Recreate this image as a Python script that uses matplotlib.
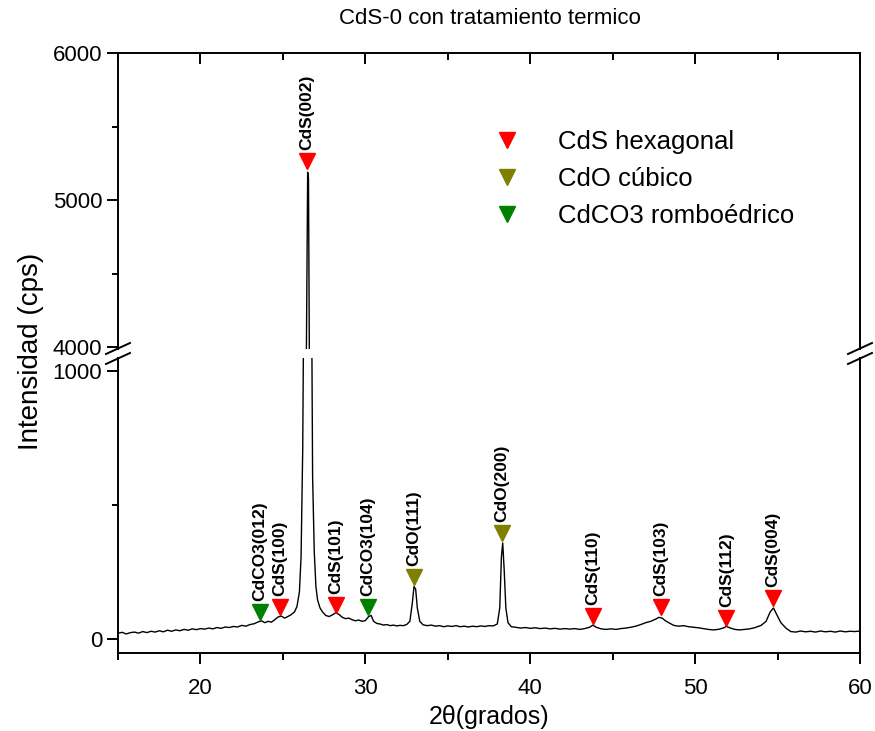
import matplotlib
matplotlib.use("Agg")
import matplotlib.pyplot as plt
from matplotlib.lines import Line2D
from matplotlib.ticker import MultipleLocator

plt.rcParams['font.family'] = ['Liberation Sans', 'DejaVu Sans']

# === Datos (difractograma) ===
two_theta = [15, 15.25, 15.5, 15.75, 16, 16.25, 16.5, 16.75, 17, 17.25, 17.5, 17.75,
             18, 18.25, 18.5, 18.75, 19, 19.25, 19.5, 19.75, 20, 20.25, 20.5, 20.75,
             21, 21.25, 21.5, 21.75, 22, 22.25, 22.5, 22.75, 23, 23.25, 23.5, 23.7,
             23.9, 24.1, 24.3, 24.5, 24.7, 24.9, 25.1, 25.3, 25.5, 25.7, 25.85, 26.0,
             26.1, 26.2, 26.3, 26.4, 26.5, 26.55, 26.6, 26.7, 26.8, 26.9, 27.0, 27.1,
             27.25, 27.4, 27.6, 27.8, 28.0, 28.2, 28.4, 28.6, 28.8, 29.0, 29.2, 29.4,
             29.6, 29.8, 30.0, 30.2, 30.35, 30.5, 30.7, 30.9, 31.1, 31.3, 31.5, 31.7,
             31.9, 32.1, 32.3, 32.5, 32.7, 32.85, 32.95, 33.05, 33.15, 33.3, 33.5, 33.75,
             34, 34.25, 34.5, 34.75, 35, 35.25, 35.5, 35.75, 36, 36.25, 36.5, 36.75,
             37, 37.25, 37.5, 37.75, 38.0, 38.15, 38.25, 38.33, 38.42, 38.52, 38.65, 38.85,
             39.1, 39.4, 39.7, 40, 40.3, 40.6, 40.9, 41.2, 41.5, 41.8, 42.1, 42.4,
             42.7, 43.0, 43.3, 43.6, 43.8, 44.0, 44.3, 44.6, 44.9, 45.2, 45.5, 45.8,
             46.1, 46.4, 46.7, 47.0, 47.3, 47.6, 47.8, 48.0, 48.2, 48.4, 48.7, 49.0,
             49.3, 49.6, 49.9, 50.2, 50.5, 50.8, 51.1, 51.4, 51.7, 51.9, 52.1, 52.4,
             52.7, 53.0, 53.3, 53.6, 54.0, 54.3, 54.55, 54.75, 54.95, 55.2, 55.5, 55.8,
             56.1, 56.4, 56.7, 57, 57.3, 57.6, 57.9, 58.2, 58.5, 58.8, 59.1, 59.4,
             59.7, 60]
intensidad = [22, 25, 19, 24, 26, 22, 28, 24, 29, 26, 31, 27,
              33, 29, 34, 31, 36, 33, 38, 35, 39, 37, 41, 38,
              43, 40, 45, 43, 47, 45, 51, 48, 54, 57, 64, 68,
              61, 66, 63, 72, 82, 86, 78, 84, 91, 101, 121, 176,
              306, 706, 1606, 3600, 5190, 5150, 4000, 1706, 606, 326, 196, 146,
              116, 101, 88, 84, 90, 98, 92, 81, 76, 78, 72, 68,
              71, 66, 69, 84, 88, 66, 58, 56, 52, 54, 50, 52,
              49, 51, 50, 54, 66, 136, 196, 186, 116, 66, 53, 50,
              52, 48, 50, 46, 49, 47, 50, 46, 48, 45, 48, 46,
              49, 47, 50, 49, 56, 116, 306, 358, 256, 116, 61, 46,
              44, 41, 43, 40, 42, 39, 41, 38, 40, 37, 39, 37,
              39, 36, 39, 44, 52, 44, 38, 36, 38, 36, 39, 41,
              44, 48, 54, 61, 66, 74, 81, 78, 68, 61, 51, 48,
              50, 46, 44, 42, 39, 36, 34, 36, 41, 47, 42, 36,
              34, 36, 38, 42, 51, 66, 101, 116, 91, 61, 41, 28,
              26, 30, 27, 29, 26, 30, 27, 29, 26, 30, 27, 29,
              28, 30]

# === Picos identificados ===
picos_nombre = ['CdCO3(012)', 'CdS(100)', 'CdS(002)', 'CdS(101)', 'CdCO3(104)',
                'CdO(111)', 'CdO(200)', 'CdS(110)', 'CdS(103)', 'CdS(112)', 'CdS(004)']
picos_x = [23.6, 24.8, 26.45, 28.2, 30.15, 32.95, 38.3, 43.8, 47.9, 51.9, 54.7]
picos_y = [100, 118, 5265, 126, 118, 230, 395, 85, 118, 77, 152]
picos_fase = ['CdCO3', 'CdS', 'CdS', 'CdS', 'CdCO3', 'CdO', 'CdO', 'CdS', 'CdS', 'CdS', 'CdS']

fases = ['CdS', 'CdO', 'CdCO3']
fases_leyenda = ['CdS hexagonal', 'CdO cúbico', 'CdCO3 romboédrico']
colores = {'CdS': '#ff0000', 'CdO': '#808000', 'CdCO3': '#008000'}

# === Figura con eje y cortado ===
fig = plt.figure(figsize=(8.75, 7.31), dpi=100)
ax_top = fig.add_axes([0.1349, 0.5226, 0.848, 0.4049])
ax_bot = fig.add_axes([0.1349, 0.1067, 0.848, 0.4036], sharex=ax_top)

for ax in (ax_top, ax_bot):
    ax.plot(two_theta, intensidad, color='black', linewidth=1.0)
    for s in ax.spines.values():
        s.set_linewidth(1.4)

ax_top.set_xlim(15, 60)
ax_top.set_ylim(3988, 6000)
ax_bot.set_ylim(-52, 1048)

ax_top.spines['bottom'].set_visible(False)
ax_bot.spines['top'].set_visible(False)

ax_top.xaxis.set_major_locator(MultipleLocator(10))
ax_top.xaxis.set_minor_locator(MultipleLocator(5))
ax_top.tick_params(axis='x', which='both', bottom=False, top=True, labelbottom=False,
                   direction='in', width=1.4)
ax_top.tick_params(axis='x', which='major', length=8)
ax_top.tick_params(axis='x', which='minor', length=5)
ax_bot.tick_params(axis='x', which='both', top=False, direction='out', width=1.4,
                   labelsize=16, pad=10)
ax_bot.tick_params(axis='x', which='major', length=8)
ax_bot.tick_params(axis='x', which='minor', length=5)

ax_top.set_yticks([4000, 5000, 6000])
ax_top.yaxis.set_minor_locator(MultipleLocator(500))
ax_bot.set_yticks([0, 1000])
ax_bot.yaxis.set_minor_locator(MultipleLocator(500))
for ax in (ax_top, ax_bot):
    ax.tick_params(axis='y', which='both', right=False, direction='out', width=1.4,
                   labelsize=16)
    ax.tick_params(axis='y', which='major', length=8)
    ax.tick_params(axis='y', which='minor', length=4)

# marcas de corte
for xc in (118, 860):
    for dy in (0, 10):
        fig.add_artist(Line2D([(xc - 12) / 875, (xc + 12) / 875],
                              [1 - (354 + dy) / 731, 1 - (343 + dy) / 731],
                              transform=fig.transFigure, color='black', linewidth=1.4))

# marcadores y etiquetas de picos
for nombre, px, py, fase in zip(picos_nombre, picos_x, picos_y, picos_fase):
    ax = ax_top if py > 2000 else ax_bot
    ax.plot(px, py, marker='v', markersize=12, color=colores[fase], linestyle='none')
    ax.annotate(nombre, (px, py), xytext=(0, 8), textcoords='offset points',
                rotation=90, ha='center', va='bottom', fontsize=12.5, fontweight='bold')

handles = [Line2D([], [], marker='v', markersize=12, color=colores[f], linestyle='none')
           for f in fases]
fig.legend(handles, fases_leyenda, loc='upper left', bbox_to_anchor=(0.55, 0.84),
           frameon=False, fontsize=18.5, handlelength=1.0, handletextpad=1.5,
           labelspacing=0.5, borderpad=0)

fig.text(0.56, 0.975, 'CdS-0 con tratamiento termico', ha='center', va='center', fontsize=16)
ax_bot.set_xlabel('2θ(grados)', fontsize=18, labelpad=4)
fig.text(0.035, 0.52, 'Intensidad (cps)', rotation=90, ha='center', va='center', fontsize=20)

fig.savefig('out.png', dpi=100)
